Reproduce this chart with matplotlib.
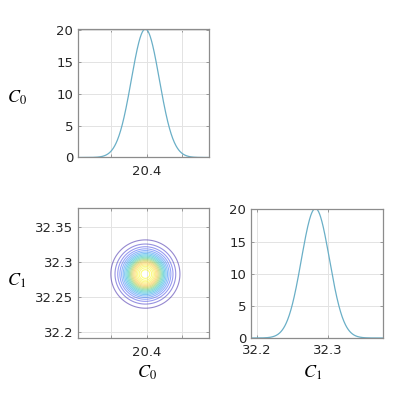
import numpy as np
import matplotlib
matplotlib.use("Agg")
import matplotlib.pyplot as plt
from matplotlib.colors import LinearSegmentedColormap

# ---- data ----
param_names = ["$C_0$", "$C_1$"]
c0_mean, c0_std = 20.398, 0.0198
c1_mean, c1_std = 32.283, 0.0198
c0_range = [20.302, 20.488]
c1_range = [32.1915, 32.3775]
c0_ticks = [20.35, 20.40, 20.45]
c0_ticklabels = ["", "20.4", ""]
c1_ticks_x = [32.2, 32.3]
c1_ticklabels_x = ["32.2", "32.3"]
c1_ticks_y = [32.2, 32.25, 32.3, 32.35]
c1_ticklabels_y = ["32.2", "32.25", "32.3", "32.35"]
pdf_ticks = [0, 5, 10, 15, 20]
n_levels = 20

plt.rcParams["mathtext.fontset"] = "stix"

parula = LinearSegmentedColormap.from_list("parula", [
    (0.2422, 0.1504, 0.6603), (0.2810, 0.3228, 0.9579), (0.1786, 0.5289, 0.9682),
    (0.0689, 0.6948, 0.8394), (0.2161, 0.7843, 0.5923), (0.6720, 0.7793, 0.2227),
    (0.9970, 0.7659, 0.2199), (0.9657, 0.9494, 0.1965), (0.9769, 0.9839, 0.0805)])

W, H = 399, 393
fig = plt.figure(figsize=(W / 100, H / 100), dpi=100)

def ax_px(x0, x1, y0, y1):
    return fig.add_axes([x0 / W, 1 - y1 / H, (x1 - x0) / W, (y1 - y0) / H])

tick_color = "#262626"
frame_color = "#8c8c8c"
line_color = "#6aafc7"

def style(ax):
    for s in ax.spines.values():
        s.set_color(frame_color)
        s.set_linewidth(0.9)
    ax.grid(True, color="#e3e3e3", linewidth=0.7)
    ax.set_axisbelow(True)
    ax.tick_params(direction="in", length=2.5, width=0.6, color=frame_color,
                   labelcolor=tick_color, labelsize=9.5, pad=3,
                   top=True, right=True)
    ax.tick_params(axis="x", pad=5.5)

def gauss(x, m, s):
    return np.exp(-0.5 * ((x - m) / s) ** 2) / (s * np.sqrt(2 * np.pi))

# top-left: C0 marginal
ax1 = ax_px(77.5, 209, 29, 157.5)
x0 = np.linspace(c0_range[0], c0_range[1], 400)
p0 = gauss(x0, c0_mean, c0_std)
ax1.plot(x0, p0, color=line_color, linewidth=0.9)
ax1.set_xlim(c0_range)
ax1.set_ylim(0, p0.max())
ax1.set_xticks(c0_ticks)
ax1.set_xticklabels(c0_ticklabels)
ax1.set_yticks(pdf_ticks)
style(ax1)

# bottom-left: joint contour
ax2 = ax_px(77.5, 209, 208, 338)
xx, yy = np.meshgrid(np.linspace(c0_range[0], c0_range[1], 300),
                     np.linspace(c1_range[0], c1_range[1], 300))
zz = gauss(xx, c0_mean, c0_std) * gauss(yy, c1_mean, c1_std)
levels = np.linspace(0, zz.max(), n_levels + 2)[1:-1]
ax2.contour(xx, yy, zz, levels=levels, cmap=parula, linewidths=0.8, alpha=0.55)
ax2.set_xlim(c0_range)
ax2.set_ylim(c1_range)
ax2.set_xticks(c0_ticks)
ax2.set_xticklabels(c0_ticklabels)
ax2.set_yticks(c1_ticks_y)
ax2.set_yticklabels(c1_ticklabels_y)
style(ax2)

# bottom-right: C1 marginal
ax3 = ax_px(250.5, 382.5, 208.5, 338)
x1 = np.linspace(c1_range[0], c1_range[1], 400)
p1 = gauss(x1, c1_mean, c1_std)
ax3.plot(x1, p1, color=line_color, linewidth=0.9)
ax3.set_xlim(c1_range)
ax3.set_ylim(0, p1.max())
ax3.set_xticks(c1_ticks_x)
ax3.set_xticklabels(c1_ticklabels_x)
ax3.set_yticks(pdf_ticks)
style(ax3)
ax3.tick_params(axis="x", pad=4.5)

# labels
lab_kw = dict(fontsize=13, color="black", ha="center", va="center")
fig.text(17 / W, 1 - 98 / H, param_names[0], **lab_kw)
fig.text(17 / W, 1 - 281 / H, param_names[1], **lab_kw)
fig.text(147 / W, 1 - 373 / H, param_names[0], **lab_kw)
fig.text(313 / W, 1 - 373 / H, param_names[1], **lab_kw)

fig.savefig("out.png", dpi=100)
